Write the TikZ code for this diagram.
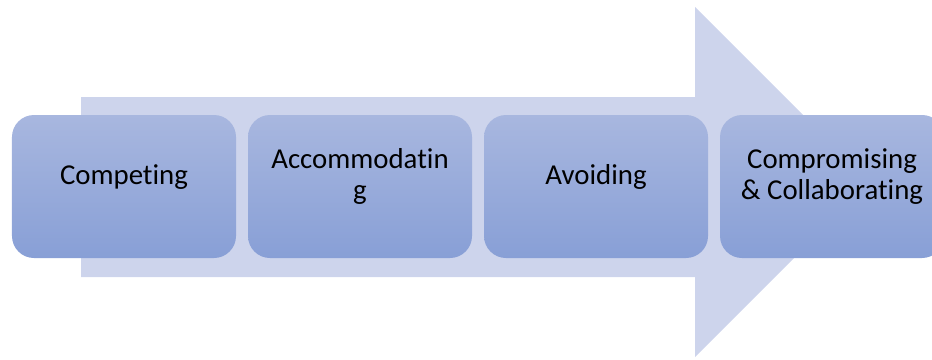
\documentclass[tikz,border=0pt]{standalone}
\usepackage{fontspec}
\setmainfont{Carlito}[Ligatures=NoCommon]
\usetikzlibrary{positioning}

\definecolor{arrowfill}{HTML}{CDD4EC}
\definecolor{boxtop}{HTML}{A8B7DF}
\definecolor{boxbottom}{HTML}{889FD6}

% text block sits a little above the middle of its box
\newcommand{\boxtext}[1]{\raisebox{0pt}[\height][\dimexpr\depth+0.51cm\relax]{\begin{tabular}{@{}c@{}}#1\end{tabular}}}

\begin{document}
\begin{tikzpicture}[x=0.03cm, y=-0.03cm, node distance=7.08cm]
    % Define styles
    \tikzstyle{stage} = [rectangle, rounded corners=0.66cm, minimum width=6.72cm, minimum height=4.29cm, inner sep=0pt, text centered, top color=boxtop, bottom color=boxbottom, font=\fontsize{24.6}{26.5}\selectfont]
    \tikzstyle{bigarrow} = [fill=arrowfill, draw=none]

    \useasboundingbox (0,0) rectangle (932,359);

    % Background arrow
    \fill [bigarrow] (81,97) -- (695,97) -- (695,7) -- (870,182) -- (695,357) -- (695,277) -- (81,277) -- cycle;

    % Nodes
    \node [stage] (competing) at (124,186.5) {\boxtext{Competing}};
    \node [stage, right of=competing] (accommodating) {\boxtext{Accommodatin\\g}};
    \node [stage, right of=accommodating] (avoiding) {\boxtext{Avoiding}};
    \node [stage, right of=avoiding] (compromising) {\boxtext{Compromising\\\& Collaborating}};
\end{tikzpicture}
\end{document}
